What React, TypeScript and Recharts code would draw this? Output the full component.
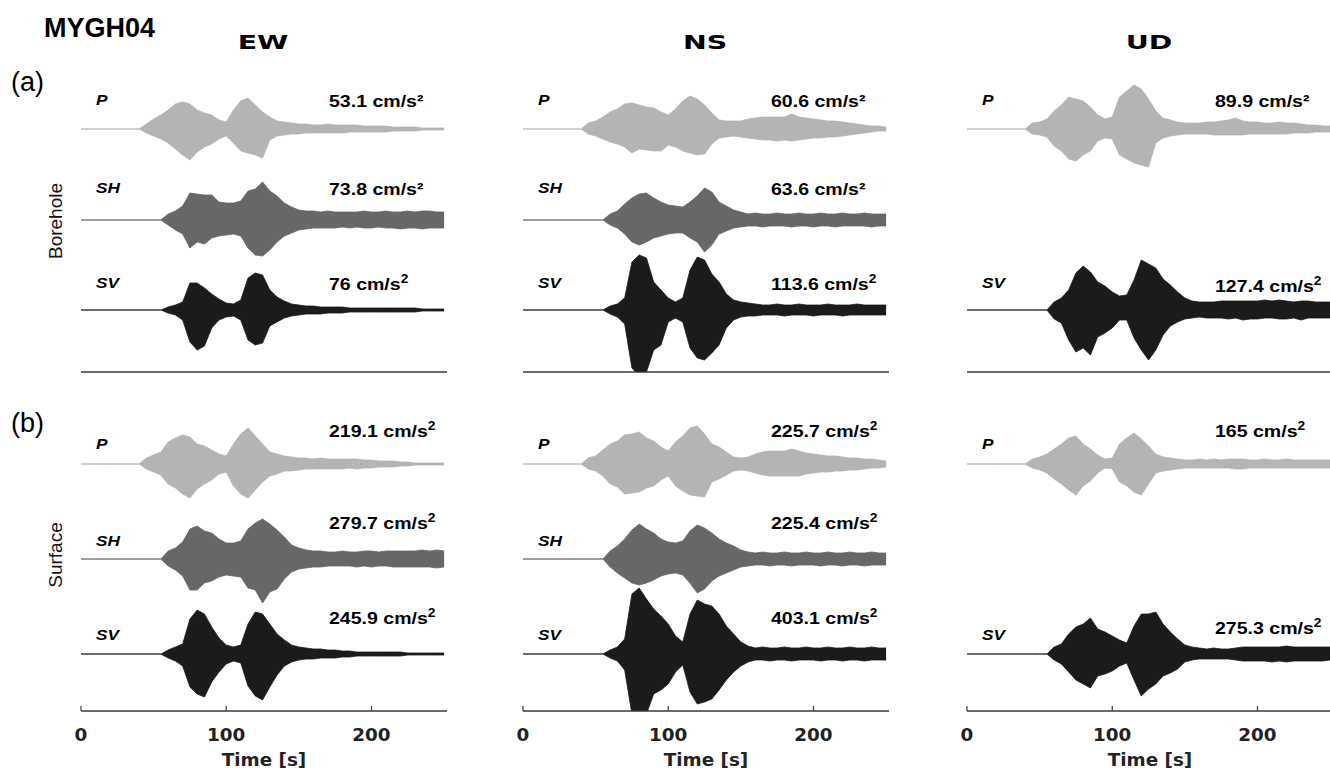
import React from 'react';
import { ComposedChart, Area, XAxis, YAxis } from 'recharts';

// time axis, seconds
const TIME = [0,5,10,15,20,25,30,35,40,45,50,55,60,65,70,75,80,85,90,95,100,105,110,115,120,125,130,135,140,145,150,155,160,165,170,175,180,185,190,195,200,205,210,215,220,225,230,235,240,245,250];

// envelopes (upper / lower), in plot units
// EW - borehole
const ewBP_hi = [0,0,0,0,0,0,0,0,0, 5,10,14,19,25,27,25,19,16,14, 9,7,19,28,31,24,17,12,8,7, 6,5,5,4,4,5,4,4,4,4, 3,3,3,3,2,2,2,2,1,1, 1,1];
const ewBP_lo = [0,0,0,0,0,0,0,0,0, -4,-7,-10,-14,-20,-26,-31,-23,-18,-15, -10,-7,-14,-22,-24,-26,-29,-11,-7,-6, -5,-5,-4,-4,-4,-4,-4,-4,-3,-3, -3,-3,-3,-3,-2,-2,-2,-2,-1,-1, -1,-1];
const ewBSH_hi = [0,0,0,0,0,0,0,0,0,0,0,0, 6,9,14,27,26,25,25,18,17,17, 19,29,31,38,29,24,17,13,10,9, 9,8,9,8,8,8,8,9,8,8, 9,8,8,9,8,9,9,8,8];
const ewBSH_lo = [0,0,0,0,0,0,0,0,0,0,0,0, -5,-10,-14,-28,-22,-24,-18,-16,-15,-14, -16,-28,-35,-36,-30,-22,-16,-13,-10,-9, -8,-8,-8,-8,-7,-8,-7,-8,-8,-7, -8,-8,-9,-8,-8,-9,-8,-8,-8];
const ewBSV_hi = [0,0,0,0,0,0,0,0,0,0,0,0, 3,5,8,27,27,22,16,11,7,6, 10,32,37,35,20,13,9,6,5,4, 4,3,3,3,3,2,2,2,2,2, 2,2,2,2,2,1,1,1,1];
const ewBSV_lo = [0,0,0,0,0,0,0,0,0,0,0,0, -3,-5,-10,-32,-40,-36,-18,-10,-7,-6, -10,-30,-35,-33,-16,-12,-8,-6,-5,-4, -4,-4,-3,-3,-3,-2,-2,-2,-2,-2, -2,-2,-2,-2,-2,-1,-1,-1,-1];

// EW - surface
const ewSP_hi = [0,0,0,0,0,0,0,0,0, 6,9,12,22,26,29,27,20,18,14, 10,8,20,30,36,28,20,12,10,8, 7,6,6,5,6,5,5,5,5,5, 4,4,3,3,3,2,2,1,1,1, 1,1];
const ewSP_lo = [0,0,0,0,0,0,0,0,0, -5,-8,-11,-20,-24,-30,-34,-25,-20,-16, -10,-8,-22,-30,-34,-26,-18,-12,-10,-7, -7,-6,-5,-5,-5,-5,-5,-5,-4,-5, -4,-4,-3,-3,-3,-2,-2,-1,-1,-1, -1,-1];
const ewSSH_hi = [0,0,0,0,0,0,0,0,0,0,0,0, 8,11,17,30,33,28,26,20,16,16, 18,30,36,40,35,29,22,14,11,9, 8,8,7,7,8,7,7,8,8,7, 8,8,8,8,8,9,8,9,8];
const ewSSH_lo = [0,0,0,0,0,0,0,0,0,0,0,0, -7,-11,-17,-31,-31,-24,-22,-18,-16,-17, -18,-29,-31,-44,-33,-30,-20,-13,-10,-9, -8,-8,-7,-7,-7,-7,-8,-7,-8,-7, -7,-8,-8,-8,-8,-8,-8,-9,-8];
const ewSSV_hi = [0,0,0,0,0,0,0,0,0,0,0,0, 4,7,10,35,44,40,27,16,9,7, 9,30,42,40,30,20,14,9,7,6, 5,5,4,4,3,3,2,2,2,2, 2,2,2,1,1,1,1,1,1];
const ewSSV_lo = [0,0,0,0,0,0,0,0,0,0,0,0, -4,-7,-12,-33,-40,-43,-28,-18,-10,-7, -9,-32,-42,-46,-33,-21,-12,-8,-6,-5, -5,-4,-4,-4,-3,-3,-2,-2,-2,-2, -2,-2,-2,-1,-1,-1,-1,-1,-1];

// NS - borehole
const nsBP_hi = [0,0,0,0,0,0,0,0,0, 6,8,12,17,20,25,26,24,22,21, 17,14,20,28,33,30,24,16,9,8, 8,8,10,11,12,12,12,12,15,12, 11,10,9,8,8,7,6,5,4,3, 3,2];
const nsBP_lo = [0,0,0,0,0,0,0,0,0, -5,-7,-10,-13,-15,-18,-24,-20,-21,-22, -22,-16,-18,-22,-24,-26,-25,-15,-9,-8, -7,-8,-9,-10,-11,-11,-12,-11,-12,-11, -10,-9,-9,-8,-8,-7,-6,-5,-4,-3, -2,-2];
const nsBSH_hi = [0,0,0,0,0,0,0,0,0,0,0,0, 6,9,16,22,26,27,22,18,15,14, 13,18,24,32,28,18,14,10,8,6, 7,6,6,7,6,6,7,6,6,7, 6,6,7,6,6,7,6,6,6];
const nsBSH_lo = [0,0,0,0,0,0,0,0,0,0,0,0, -5,-8,-14,-22,-25,-22,-18,-16,-14,-13, -13,-18,-22,-32,-25,-14,-11,-8,-7,-6, -6,-7,-6,-6,-6,-7,-6,-6,-7,-6, -6,-7,-6,-6,-6,-6,-7,-6,-6];
const nsBSV_hi = [0,0,0,0,0,0,0,0,0,0,0,0, 4,6,12,48,55,52,28,20,12,8, 12,40,53,50,36,28,16,10,8,7, 6,5,5,6,5,5,6,5,5,5, 6,5,5,5,6,5,5,5,5];
const nsBSV_lo = [0,0,0,0,0,0,0,0,0,0,0,0, -4,-7,-14,-58,-66,-62,-40,-35,-12,-8, -12,-38,-48,-50,-43,-35,-18,-10,-7,-6, -6,-5,-5,-5,-6,-5,-5,-5,-6,-5, -5,-5,-6,-5,-5,-5,-5,-5,-5];

// NS - surface
const nsSP_hi = [0,0,0,0,0,0,0,0,0, 6,8,14,20,23,29,30,32,26,23, 17,13,22,28,36,38,30,20,17,12, 7,6,7,10,12,13,13,13,15,13, 11,10,9,8,8,7,6,6,5,5, 4,3];
const nsSP_lo = [0,0,0,0,0,0,0,0,0, -5,-7,-12,-20,-23,-30,-29,-28,-24,-22, -16,-12,-22,-27,-31,-32,-33,-18,-15,-11, -7,-6,-7,-9,-11,-12,-12,-12,-12,-12, -10,-9,-8,-8,-7,-7,-6,-6,-5,-4, -4,-3];
const nsSSH_hi = [0,0,0,0,0,0,0,0,0,0,0,0, 8,13,20,29,35,30,26,20,17,16, 18,28,34,31,26,20,16,13,9,7, 6,7,6,6,7,6,6,7,6,6, 7,6,6,7,6,6,7,6,6];
const nsSSH_lo = [0,0,0,0,0,0,0,0,0,0,0,0, -8,-14,-19,-24,-26,-24,-21,-17,-15,-14, -16,-24,-34,-30,-22,-17,-14,-11,-8,-7, -6,-6,-7,-6,-6,-7,-6,-6,-6,-7, -6,-6,-7,-6,-6,-7,-6,-6,-6];
const nsSSV_hi = [0,0,0,0,0,0,0,0,0,0,0,0, 4,7,15,60,66,55,45,38,30,18, 12,40,54,50,48,40,28,20,12,8, 6,7,6,6,7,6,6,7,6,6, 7,6,6,7,6,6,7,6,6];
const nsSSV_lo = [0,0,0,0,0,0,0,0,0,0,0,0, -4,-7,-16,-60,-62,-60,-40,-36,-30,-18, -11,-38,-50,-48,-45,-36,-26,-18,-12,-8, -6,-6,-7,-6,-6,-7,-6,-6,-6,-7, -6,-6,-7,-6,-6,-7,-6,-6,-6];

// UD - borehole
const udBP_hi = [0,0,0,0,0,0,0,0,0, 6,7,10,18,24,32,30,28,22,14, 10,12,32,38,44,40,30,18,11,9, 7,6,6,6,7,7,8,9,11,8, 7,7,6,6,7,6,6,5,4,4, 3,3];
const udBP_lo = [0,0,0,0,0,0,0,0,0, -5,-6,-8,-17,-22,-30,-32,-26,-22,-12, -9,-10,-26,-30,-34,-36,-38,-14,-9,-7, -6,-5,-5,-5,-5,-6,-6,-6,-6,-6, -5,-5,-5,-5,-5,-5,-4,-4,-4,-3, -3,-3];
const udBSV_hi = [0,0,0,0,0,0,0,0,0,0,0,0, 8,12,20,37,44,38,28,24,18,14, 15,30,50,46,42,31,25,18,12,9, 8,8,8,9,9,9,9,9,9,10, 9,10,9,8,9,9,8,8,8];
const udBSV_lo = [0,0,0,0,0,0,0,0,0,0,0,0, -9,-13,-30,-42,-38,-45,-27,-23,-18,-10, -10,-28,-40,-50,-40,-25,-16,-12,-9,-8, -7,-8,-8,-8,-9,-8,-10,-9,-9,-8, -8,-9,-9,-8,-10,-8,-8,-8,-8];

// UD - surface
const udSP_hi = [0,0,0,0,0,0,0,0,0, 5,7,10,15,20,26,28,20,15,9, 5,6,20,26,31,25,18,10,7,6, 5,4,4,5,4,5,4,5,5,5, 4,4,5,4,4,5,4,4,4,4, 4,4];
const udSP_lo = [0,0,0,0,0,0,0,0,0, -4,-6,-9,-15,-20,-26,-31,-22,-17,-9, -4,-5,-18,-22,-28,-31,-20,-9,-7,-6, -5,-4,-4,-4,-4,-4,-4,-4,-5,-5, -4,-4,-4,-4,-4,-4,-4,-4,-4,-4, -4,-4];
const udSSV_hi = [0,0,0,0,0,0,0,0,0,0,0,0, 7,10,20,27,30,36,25,22,18,14, 11,28,40,40,42,30,22,15,9,7, 6,5,6,5,5,6,7,7,7,7, 7,7,8,7,7,7,7,7,7];
const udSSV_lo = [0,0,0,0,0,0,0,0,0,0,0,0, -6,-10,-18,-26,-30,-34,-22,-20,-17,-12, -9,-26,-42,-35,-30,-22,-19,-15,-8,-6, -5,-5,-5,-5,-5,-6,-7,-7,-7,-7, -8,-7,-8,-7,-7,-7,-7,-7,-6];

// peak accelerations shown beside each trace
const ewBoreValues = ['53.1', '73.8', '76'];
const nsBoreValues = ['60.6', '63.6', '113.6'];
const udBoreValues = ['89.9', '127.4'];
const ewSurfValues = ['219.1', '279.7', '245.9'];
const nsSurfValues = ['225.7', '225.4', '403.1'];
const udSurfValues = ['165', '275.3'];

const X_TICKS = [0, 100, 200];
const COL_TITLES = ['EW', 'NS', 'UD'];
const ROW_TAGS = ['(a)', '(b)'];
const ROW_NAMES = ['Borehole', 'Surface'];

const FONT = '"Liberation Sans", Arial, Helvetica, sans-serif';
const WIDE = '"DejaVu Sans", Verdana, sans-serif';
const AXIS = '#3a3a3a';
const COLORS: Record<string, string> = { P: '#b4b4b4', SH: '#676767', SV: '#1b1b1b' };

const COL_LEFT = [81, 523, 967];
const ROW_TOP = [68, 407];
const PLOT_W = 366;
const PLOT_H = 304;
const PAD = 2;
const PAD_L = 14;
const BASE = [{ P: 243, SH: 152, SV: 62 }, { P: 247, SH: 152, SV: 57 }];
const LABEL_Y = [{ P: 105, SH: 193, SV: 288 }, { P: 449, SH: 546, SV: 640 }];
const VALUE_Y = [{ P: 107, SH: 195, SV: 290 }, { P: 437, SH: 529, SV: 624 }];

type Trace = { name: 'P' | 'SH' | 'SV'; hi: number[]; lo: number[]; value: string; raised: boolean; vy?: number };
type PanelDef = { col: number; row: number; traces: Trace[] };

const panels: PanelDef[] = [
  { col: 0, row: 0, traces: [
    { name: 'P', hi: ewBP_hi, lo: ewBP_lo, value: ewBoreValues[0], raised: false },
    { name: 'SH', hi: ewBSH_hi, lo: ewBSH_lo, value: ewBoreValues[1], raised: false },
    { name: 'SV', hi: ewBSV_hi, lo: ewBSV_lo, value: ewBoreValues[2], raised: true },
  ] },
  { col: 1, row: 0, traces: [
    { name: 'P', hi: nsBP_hi, lo: nsBP_lo, value: nsBoreValues[0], raised: false },
    { name: 'SH', hi: nsBSH_hi, lo: nsBSH_lo, value: nsBoreValues[1], raised: false },
    { name: 'SV', hi: nsBSV_hi, lo: nsBSV_lo, value: nsBoreValues[2], raised: true },
  ] },
  { col: 2, row: 0, traces: [
    { name: 'P', hi: udBP_hi, lo: udBP_lo, value: udBoreValues[0], raised: false },
    { name: 'SV', hi: udBSV_hi, lo: udBSV_lo, value: udBoreValues[1], raised: true, vy: 292 },
  ] },
  { col: 0, row: 1, traces: [
    { name: 'P', hi: ewSP_hi, lo: ewSP_lo, value: ewSurfValues[0], raised: true },
    { name: 'SH', hi: ewSSH_hi, lo: ewSSH_lo, value: ewSurfValues[1], raised: true },
    { name: 'SV', hi: ewSSV_hi, lo: ewSSV_lo, value: ewSurfValues[2], raised: true },
  ] },
  { col: 1, row: 1, traces: [
    { name: 'P', hi: nsSP_hi, lo: nsSP_lo, value: nsSurfValues[0], raised: true },
    { name: 'SH', hi: nsSSH_hi, lo: nsSSH_lo, value: nsSurfValues[1], raised: true },
    { name: 'SV', hi: nsSSV_hi, lo: nsSSV_lo, value: nsSurfValues[2], raised: true },
  ] },
  { col: 2, row: 1, traces: [
    { name: 'P', hi: udSP_hi, lo: udSP_lo, value: udSurfValues[0], raised: true },
    { name: 'SV', hi: udSSV_hi, lo: udSSV_lo, value: udSurfValues[1], raised: true, vy: 634 },
  ] },
];

// text stretched sideways like the original figure
const SText = ({ x, y, sx = 1, anchor = 'start', size, weight = 700, italic = false, fill = '#000', family = FONT, children }: any) => (
  <text
    transform={`translate(${x},${y}) scale(${sx},1)`}
    textAnchor={anchor}
    fontFamily={family}
    fontSize={size}
    fontWeight={weight}
    fontStyle={italic ? 'italic' : 'normal'}
    fill={fill}
  >
    {children}
  </text>
);

const TimeTick = (props: any) => {
  const { x, y, payload } = props;
  return (
    <g>
      <line x1={x} y1={y} x2={x} y2={y - 5} stroke={AXIS} strokeWidth={1.2} />
      <SText x={x} y={y + 30} sx={1.02} anchor="middle" size={18} family={WIDE} fill="#222">{payload.value}</SText>
    </g>
  );
};

const Panel = ({ p }: { p: PanelDef }) => {
  const rows = TIME.map((t, i) => {
    const r: any = { t };
    p.traces.forEach((tr, k) => {
      r['hi' + k] = tr.hi[i];
      r['lo' + k] = tr.lo[i];
    });
    return r;
  });
  const bottom = p.row === 1;
  const xh = bottom ? 44 : 2;
  const base = BASE[p.row];
  return (
    <div style={{ position: 'absolute', left: COL_LEFT[p.col] - PAD_L, top: ROW_TOP[p.row] - PAD }}>
      <ComposedChart width={PLOT_W + PAD_L + PAD} height={PLOT_H + PAD + xh} data={rows}
        margin={{ top: PAD, right: PAD, bottom: 0, left: PAD_L }}>
        <XAxis dataKey="t" type="number" domain={[0, 252]} ticks={X_TICKS} allowDataOverflow interval={0}
          height={xh} tickSize={0} tickMargin={0} tickLine={false}
          axisLine={{ stroke: AXIS, strokeWidth: 1.3 }}
          tick={bottom ? <TimeTick /> : false} />
        <YAxis type="number" domain={[0, PLOT_H]} allowDataOverflow width={0} tick={false} tickLine={false}
          axisLine={{ stroke: AXIS, strokeWidth: 1.3 }} />
        {p.traces.map((tr, k) => (
          <Area key={tr.name} type="linear"
            dataKey={(d: any) => [base[tr.name] + d['lo' + k], base[tr.name] + d['hi' + k]]}
            stroke={COLORS[tr.name]} strokeWidth={0.8} fill={COLORS[tr.name]} fillOpacity={1}
            dot={false} activeDot={false} isAnimationActive={false} />
        ))}
      </ComposedChart>
    </div>
  );
};

const Overlay = () => (
  <svg width={1330} height={774} style={{ position: 'absolute', left: 0, top: 0, pointerEvents: 'none' }}>
    <text x={44} y={37} fontFamily={FONT} fontSize={27} fontWeight={700} fill="#000">MYGH04</text>
    {COL_TITLES.map((t, c) => (
      <SText key={t} x={COL_LEFT[c] + 182} y={49} sx={1.42} anchor="middle" size={20} family={WIDE}>{t}</SText>
    ))}
    {ROW_TAGS.map((t, r) => (
      <text key={t} x={11} y={r === 0 ? 91 : 432} fontFamily={FONT} fontSize={27} fill="#000">{t}</text>
    ))}
    {ROW_NAMES.map((t, r) => (
      <text key={t} transform={`translate(62,${r === 0 ? 221 : 555}) rotate(-90)`} textAnchor="middle"
        fontFamily={FONT} fontSize={19} fill="#111">{t}</text>
    ))}
    {panels.map((p) => p.traces.map((tr) => (
      <g key={`${p.col}-${p.row}-${tr.name}`}>
        <SText x={COL_LEFT[p.col] + 15} y={LABEL_Y[p.row][tr.name]} sx={1.15} size={15} italic>{tr.name}</SText>
        <SText x={COL_LEFT[p.col] + 248} y={tr.vy ?? VALUE_Y[p.row][tr.name]} sx={1.15} size={17}>
          {tr.raised ? (
            <>{tr.value} cm/s<tspan dy={-7} fontSize={12}>2</tspan></>
          ) : (
            `${tr.value} cm/s²`
          )}
        </SText>
      </g>
    )))}
    {COL_LEFT.map((l) => (
      <SText key={l} x={l + 183} y={766} sx={1.02} anchor="middle" size={18} family={WIDE} fill="#222">Time [s]</SText>
    ))}
  </svg>
);

export default function App() {
  return (
    <div style={{ position: 'absolute', left: 0, top: 0, width: 1330, height: 774, overflow: 'hidden', background: '#fff' }}>
      {panels.map((p) => <Panel key={`${p.col}-${p.row}`} p={p} />)}
      <Overlay />
    </div>
  );
}
